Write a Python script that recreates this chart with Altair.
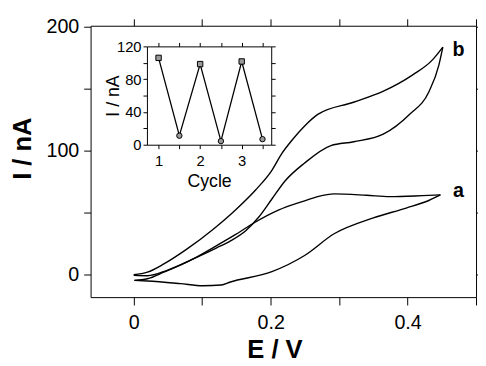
import altair as alt
import pandas as pd

FONT = "Liberation Sans"

# ---- main cyclic voltammograms (E in V, I in nA) ----
b_fwd_E = [0.0, 0.020, 0.044, 0.0775, 0.1157, 0.149, 0.178, 0.2018, 0.216, 0.2305, 0.25, 0.2688, 0.321, 0.364, 0.4075, 0.436, 0.4515]
b_fwd_I = [0.0, 2.1, 8.7, 20.6, 36.5, 52.4, 68.3, 84.1, 97.4, 107.9, 120.0, 129.1, 138.9, 147.6, 160.9, 172.8, 183.3]
b_rev_E = [0.0, 0.02, 0.0488, 0.0918, 0.1205, 0.142, 0.1636, 0.1827, 0.2018, 0.221, 0.2496, 0.288, 0.3214, 0.3644, 0.4027, 0.4314, 0.4457, 0.4515]
b_rev_I = [-0.5, -0.8, 3.6, 14.0, 21.5, 27.5, 35.5, 46.5, 61.0, 75.5, 90.0, 104.0, 107.1, 113.2, 129.1, 147.6, 168.8, 183.3]
a_fwd_E = [0.001, 0.02, 0.068, 0.101, 0.128, 0.14, 0.2018, 0.2496, 0.2927, 0.35, 0.398, 0.431, 0.448]
a_fwd_I = [-4.5, -5.0, -7.1, -8.8, -8.2, -6.0, 2.5, 15.5, 33.0, 45.8, 53.7, 59.8, 64.3]
a_rev_E = [0.001, 0.02, 0.044, 0.082, 0.1205, 0.149, 0.178, 0.2113, 0.2496, 0.2688, 0.2927, 0.34, 0.374, 0.4218, 0.448]
a_rev_I = [-4.5, -3.2, 2.1, 11.4, 23.3, 32.5, 42.5, 52.0, 59.5, 62.9, 65.1, 64.0, 62.9, 63.7, 64.3]

label_E = [0.4745, 0.4745]
label_I = [62.5, 176.0]
label_txt = ["a", "b"]

# ---- inset ----
cycle = [1, 1.5, 2, 2.5, 3, 3.5]
cycle_I = [106, 11, 98.4, 4.4, 101.6, 6.8]
cycle_shape = ["square", "circle", "square", "circle", "square", "circle"]

rows = []
for name, Es, Is in [("b_fwd", b_fwd_E, b_fwd_I), ("b_rev", b_rev_E, b_rev_I),
                     ("a_fwd", a_fwd_E, a_fwd_I), ("a_rev", a_rev_E, a_rev_I)]:
    for e, i in zip(Es, Is):
        rows.append({"E": e, "I": i, "branch": name})
df_cv = pd.DataFrame(rows)
df_lab = pd.DataFrame({"E": label_E, "I": label_I, "t": label_txt})
df_in = pd.DataFrame({"c": cycle, "I": cycle_I, "s": cycle_shape})

main_x = alt.Scale(domain=[-0.063, 0.5], nice=False, zero=False)
main_y = alt.Scale(domain=[-18, 200.5], nice=False, zero=False)
in_x = alt.Scale(domain=[0.72, 3.71], range=[57.3, 183.7], nice=False, zero=False)
in_y = alt.Scale(domain=[0, 120], range=[121, 21], nice=False, zero=False)

xvals = [0, 0.1, 0.2, 0.3, 0.4, 0.5]
yvals = [0, 50, 100, 150, 200]

lines = alt.Chart(df_cv).mark_line(color="black", strokeWidth=1.4, interpolate="monotone").encode(
    x=alt.X("E:Q", scale=main_x, axis=alt.Axis(
        orient="bottom", values=xvals, format="~g",
        labelExpr="indexof(['0','0.2','0.4'], datum.label) >= 0 ? datum.label : ''",
        tickSize=8, labelPadding=8, labelFontSize=20, labelFont=FONT,
        title="E / V", titleFontSize=26, titleFontWeight="bold", titleFont=FONT,
        titleX=187, titleY=61, titleAlign="center", titleBaseline="alphabetic")),
    y=alt.Y("I:Q", scale=main_y, axis=alt.Axis(
        orient="left", values=yvals,
        labelExpr="datum.value % 100 == 0 ? datum.label : ''",
        tickSize=7, labelPadding=5, labelFontSize=20, labelFont=FONT,
        title="I / nA", titleFontSize=26, titleFontWeight="bold", titleFont=FONT,
        titleX=-69.5, titleY=124.5, titleAngle=270, titleAlign="center", titleBaseline="middle")),
    detail="branch:N",
)

labels = alt.Chart(df_lab).mark_text(fontWeight="bold", fontSize=20, font=FONT, align="center",
                                     baseline="alphabetic", color="black").encode(
    x=alt.X("E:Q", scale=main_x, axis=alt.Axis(orient="top", values=xvals, labels=False, title=None, tickSize=7)),
    y=alt.Y("I:Q", scale=main_y, axis=alt.Axis(orient="right", values=yvals, labels=False, title=None, tickSize=7)),
    text="t:N",
)

in_line = alt.Chart(df_in).mark_line(color="black", strokeWidth=1.3).encode(
    x=alt.X("c:Q", scale=in_x, axis=alt.Axis(
        orient="bottom", offset=-155, values=cycle, format="~g",
        labelExpr="datum.value % 1 == 0 ? datum.label : ''",
        tickSize=4, labelPadding=5, labelFontSize=15, labelFont=FONT,
        title="Cycle", titleFontSize=18, titleFontWeight="normal", titleFont=FONT,
        titleY=42.7, titleBaseline="alphabetic")),
    y=alt.Y("I:Q", scale=in_y, axis=alt.Axis(
        orient="left", offset=-57.3, values=[0, 20, 40, 60, 80, 100, 120],
        labelExpr="datum.value % 40 == 0 ? datum.label : ''",
        tickSize=4, labelPadding=2, labelFontSize=15, labelFont=FONT,
        title="I / nA", titleFontSize=18, titleFontWeight="normal", titleFont=FONT,
        titleX=-33.8, titleY=71, titleAngle=270, titleAlign="center", titleBaseline="middle")),
)

in_pts = alt.Chart(df_in).mark_point(filled=True, fill="#9a9a9a", stroke="black", strokeWidth=1,
                                     size=30, opacity=1).encode(
    x=alt.X("c:Q", scale=in_x, axis=alt.Axis(orient="top", offset=-21, values=cycle,
                                             labels=False, title=None, tickSize=4)),
    y=alt.Y("I:Q", scale=in_y, axis=alt.Axis(orient="right", offset=-208.3,
                                             values=[0, 20, 40, 60, 80, 100, 120],
                                             labels=False, title=None, tickSize=4)),
    shape=alt.Shape("s:N", scale=None),
)

chart = alt.layer(lines, labels, in_line, in_pts).resolve_scale(
    x="independent", y="independent"
).resolve_axis(
    x="independent", y="independent"
).properties(
    width=392, height=276,
    padding={"left": 84, "top": 15, "right": 2, "bottom": 67},
    autosize=alt.AutoSizeParams(type="none"),
).configure_view(stroke=None).configure_axis(
    grid=False, domainColor="black", tickColor="black", labelColor="black",
    titleColor="black", domainWidth=1, tickWidth=1,
)

chart.save("out.html", embed_options={"renderer": "svg", "actions": False})
